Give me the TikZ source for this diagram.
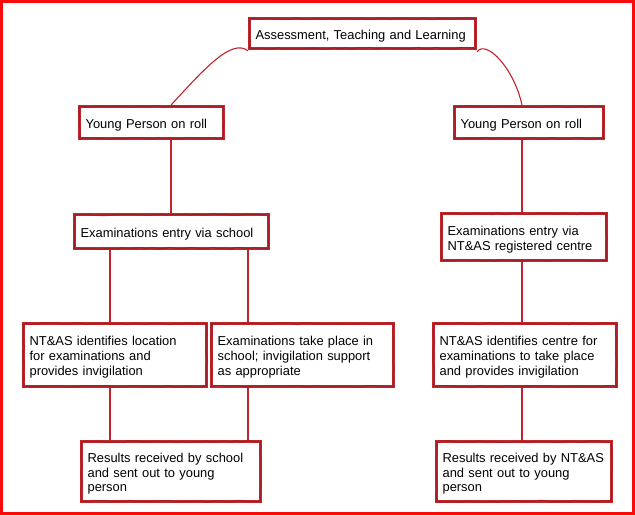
\documentclass[tikz,border=0pt]{standalone}
\usepackage{fontspec}
\setmainfont{Liberation Sans}
\usetikzlibrary{decorations.pathmorphing}
\definecolor{boxred}{RGB}{192,40,46}
\definecolor{boxdark}{RGB}{165,28,34}
\definecolor{linered}{RGB}{192,36,44}
\definecolor{framered}{RGB}{250,10,10}
\tikzset{
  box/.style={draw=boxred, line width=3.2pt, fill=white, align=left,
    inner xsep=6pt, inner ysep=3pt, anchor=center,
    font=\fontsize{12.9}{14.7}\selectfont,
    execute at begin node={\rule{0pt}{14pt}},
    postaction={draw=boxdark, line width=1.2pt,
      decorate, decoration={random steps, segment length=6pt, amplitude=0.8pt}}},
  conn/.style={draw=linered, line width=1.1pt},
}
\begin{document}
\begin{tikzpicture}[x=1pt,y=-1pt]
\useasboundingbox (0,0) rectangle (635,515);
\draw[framered, line width=2.8pt] (1.4,1.4) rectangle (633.4,513.4);

\coordinate (cL) at (171,0);
\coordinate (cA) at (110,0);
\coordinate (cB) at (248,0);
\coordinate (cR) at (522,0);

% text width = outer width - 15.2
\node[box, text width=213.8pt, minimum height=29.6pt] (top) at (362.5,33.5) {Assessment, Teaching and Learning};
\node[box, text width=131.8pt, minimum height=31.6pt] (yp1) at (151.5,122.5) {Young Person on roll};
\node[box, text width=136.8pt, minimum height=31.6pt] (yp2) at (529,122.5) {Young Person on roll};
\node[box, text width=181.8pt, minimum height=33.6pt] (ex1) at (171.5,231.5) {Examinations entry via school};
\node[box, text width=152.8pt, minimum height=46.6pt] (ex2) at (524,237) {Examinations entry via\\NT\&AS registered centre};
\node[box, text width=170.8pt, minimum height=62.6pt] (loc) at (115,355) {NT\&AS identifies location\\for examinations and\\provides invigilation};
\node[box, text width=169.8pt, minimum height=62.6pt] (take) at (302.5,355) {Examinations take place in\\school; invigilation support\\as appropriate};
\node[box, text width=170.8pt, minimum height=62.6pt] (cen) at (525,355) {NT\&AS identifies centre for\\examinations to take place\\and provides invigilation};
\node[box, text width=166.8pt, minimum height=59.6pt] (res1) at (171,471.5) {Results received by school\\and sent out to young\\person};
\node[box, text width=162.8pt, minimum height=59.6pt] (res2) at (524,471.5) {Results received by NT\&AS\\and sent out to young\\person};

\coordinate (tl) at ([yshift=-1pt]top.south west);
\coordinate (tr) at ([yshift=-2pt]top.south east);

\draw[conn] (yp1.north -| cL) .. controls (205,68) and (232,38) .. (tl);
\draw[conn] (tr) .. controls (486,39) and (514,68) .. (yp2.north -| cR);
\draw[conn] (yp1.south -| cL) -- (ex1.north -| cL);
\draw[conn] (yp2.south -| cR) -- (ex2.north -| cR);
\draw[conn] (ex1.south -| cA) -- (loc.north -| cA);
\draw[conn] (ex1.south -| cB) -- (take.north -| cB);
\draw[conn] (ex2.south -| cR) -- (cen.north -| cR);
\draw[conn] (loc.south -| cA) -- (res1.north -| cA);
\draw[conn] (take.south -| cB) -- (res1.north -| cB);
\draw[conn] (cen.south -| cR) -- (res2.north -| cR);
\end{tikzpicture}
\end{document}
